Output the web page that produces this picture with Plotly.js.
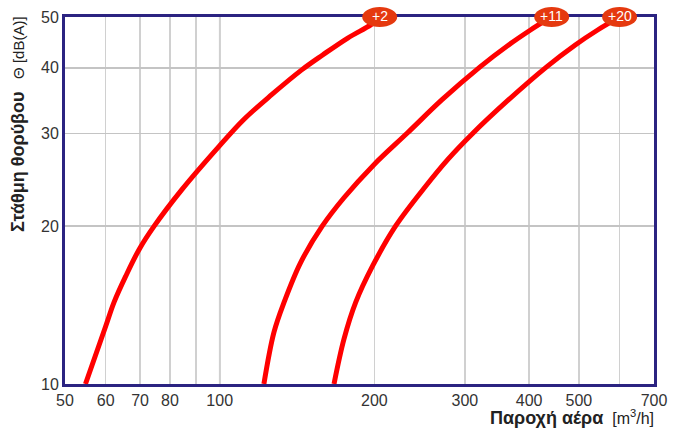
<!DOCTYPE html>
<html>
<head>
<meta charset="utf-8">
<script src="https://cdn.plot.ly/plotly-3.0.1.min.js"></script>
<style>
html,body{margin:0;padding:0;background:#fff;}
#chart{width:675px;height:428px;}
</style>
</head>
<body>
<div id="chart"></div>
<script>
// ---- data ----
var curveNames = ['+2', '+11', '+20'];

var flow_p2  = [54.8, 60.0, 62.3, 65.6, 69.7, 74.6, 84.4, 99.7, 111.4, 126.2, 144.4, 158.6, 177.5, 196.7, 202.0];
var noise_p2 = [10, 12.88, 14.32, 16.03, 18.04, 20, 23.45, 28.35, 31.9, 35.56, 39.65, 42.33, 45.6, 48.3, 49.36];

var flow_p11  = [121.9, 127.5, 133.4, 143.7, 158.4, 174.5, 199.6, 231.8, 270.8, 321.1, 365.0, 402.5, 432.3];
var noise_p11 = [10, 12.54, 14.3, 17.03, 20, 22.63, 26.17, 30.06, 34.79, 40.18, 44.23, 47.23, 49.36];

var flow_p20  = [166.9, 174.5, 183.9, 198.4, 220.0, 251.6, 277.7, 310.6, 365.0, 432.7, 491.9, 543.8, 586.9];
var noise_p20 = [10, 12.17, 14.3, 16.78, 20, 23.8, 26.75, 30.0, 34.79, 40.18, 44.23, 47.23, 49.36];

var labelFlow = [204.8, 442.6, 600];

var xTickVals = [50, 60, 70, 80, 100, 200, 300, 400, 500, 700];
var xTickText = ['50', '60', '70', '80', '100', '200', '300', '400', '500', '700'];
var xExtraGrid = [90, 600];
var yTickVals = [10, 20, 30, 40, 50];
var yTickText = ['10', '20', '30', '40', '50'];

var xRange = [50, 700];
var yRange = [10, 50];

// ---- chart ----
var red = '#ff0000';
var navy = '#2b2381';
var badge = '#e5390f';
var font = 'Liberation Sans, Arial, sans-serif';

var flows = [flow_p2, flow_p11, flow_p20];
var noises = [noise_p2, noise_p11, noise_p20];

var traces = flows.map(function (f, i) {
  return {
    x: f, y: noises[i], type: 'scatter', mode: 'lines',
    name: curveNames[i],
    line: {color: red, width: 5, shape: 'spline', smoothing: 1},
    hoverinfo: 'skip', showlegend: false
  };
});

// badge half-width of ~17.5 px expressed as a ratio on the log x axis (~514 px per decade)
var halfW = Math.pow(10, 17.5 / 514);
var halfH = 10 / 367;

var shapes = [
  {type: 'line', xref: 'x', yref: 'paper', x0: 100, x1: 100, y0: 0, y1: 1,
   line: {color: '#9d9d9d', width: 1.5}, layer: 'below'}
];
var annotations = [];
labelFlow.forEach(function (lf, i) {
  shapes.push({
    type: 'circle', layer: 'above',
    xref: 'x', x0: lf / halfW, x1: lf * halfW,
    yref: 'paper', y0: 1 - halfH, y1: 1 + halfH,
    fillcolor: badge, line: {width: 0}
  });
  annotations.push({
    xref: 'x', yref: 'paper', x: Math.log10(lf), y: 1, yshift: 1,
    text: curveNames[i], showarrow: false,
    xanchor: 'center', yanchor: 'middle',
    font: {family: font, size: 14, color: '#ffffff'}
  });
});

annotations.push({
  xref: 'paper', yref: 'paper', x: 1.003, y: -0.09,
  xanchor: 'right', yanchor: 'middle', showarrow: false,
  text: '<b><span style="font-size:18px">Παροχή αέρα</span></b>  [m<sup>3</sup>/h]',
  font: {family: font, size: 16, color: '#222222'}
});
annotations.push({
  xref: 'paper', yref: 'paper', x: -0.08, y: 0.708,
  xanchor: 'center', yanchor: 'middle', showarrow: false, textangle: -90,
  text: '<b><span style="font-size:18px">Στάθμη θορύβου</span></b>   Θ [dB(A)]',
  font: {family: font, size: 15, color: '#222222'}
});

var layout = {
  width: 675, height: 428,
  margin: {l: 65, r: 21, t: 17, b: 44, pad: 0},
  paper_bgcolor: '#ffffff', plot_bgcolor: '#ffffff',
  font: {family: font, size: 16, color: '#333333'},
  xaxis: {
    type: 'log', range: xRange.map(Math.log10),
    tickmode: 'array', tickvals: xTickVals, ticktext: xTickText,
    showgrid: true, gridcolor: '#d0d0d0', gridwidth: 1.5,
    minor: {tickmode: 'array', tickvals: xExtraGrid, showgrid: true,
            gridcolor: '#d0d0d0', gridwidth: 1.5, ticks: ''},
    showline: true, linecolor: navy, linewidth: 3, mirror: true,
    ticks: '', zeroline: false, fixedrange: true,
    tickfont: {family: font, size: 16, color: '#333333'}
  },
  yaxis: {
    type: 'log', range: yRange.map(Math.log10),
    tickmode: 'array', tickvals: yTickVals, ticktext: yTickText,
    showgrid: true, gridcolor: '#c4c4c4', gridwidth: 1.5,
    showline: true, linecolor: navy, linewidth: 3, mirror: true,
    ticks: '', zeroline: false, fixedrange: true,
    tickfont: {family: font, size: 16, color: '#333333'}
  },
  shapes: shapes,
  annotations: annotations,
  showlegend: false
};

Plotly.newPlot('chart', traces, layout, {displayModeBar: false, staticPlot: true});
</script>
</body>
</html>
